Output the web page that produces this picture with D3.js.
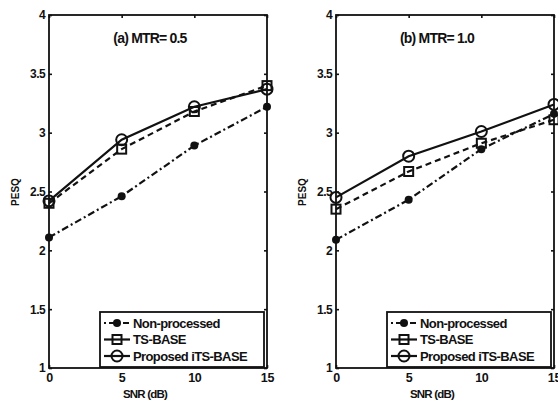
<!DOCTYPE html>
<meta charset="utf-8">
<style>
body { margin: 0; background: #fff; }
svg text { font-family: "Liberation Sans", Arial, sans-serif; font-weight: bold; fill: #111; }
.axis path, .axis line { stroke: #111; stroke-width: 1.6; fill: none; }
</style>
<svg id="plot" width="558" height="401"></svg>
<script src="https://d3js.org/d3.v7.min.js"></script>
<script>

var snr = [0, 5, 10, 15];
var yTicks = [1, 1.5, 2, 2.5, 3, 3.5, 4];
var seriesNames = ["Non-processed", "TS-BASE", "Proposed iTS-BASE"];

// (a) MTR = 0.5
var nonA = [2.11, 2.46, 2.89, 3.22];
var tsA = [2.40, 2.86, 3.18, 3.40];
var itsA = [2.42, 2.94, 3.22, 3.37];

// (b) MTR = 1.0
var nonB = [2.09, 2.43, 2.86, 3.16];
var tsB = [2.35, 2.67, 2.91, 3.11];
var itsB = [2.45, 2.80, 3.01, 3.24];

var panels = [
  {title: "(a) MTR= 0.5", left: 49, right: 267, data: [nonA, tsA, itsA]},
  {title: "(b) MTR= 1.0", left: 336, right: 554, data: [nonB, tsB, itsB]}
];

var plotTop = 15, plotBottom = 368;
var dashes = ["7,3,2,3", "6,4", null];

var svg = d3.select("svg");

panels.forEach(function(p) {
  var x = d3.scaleLinear().domain([0, 15]).range([p.left, p.right]);
  var y = d3.scaleLinear().domain([1, 4]).range([plotBottom, plotTop]);
  var g = svg.append("g");

  // box
  g.append("rect")
      .attr("x", p.left).attr("y", plotTop)
      .attr("width", p.right - p.left).attr("height", plotBottom - plotTop)
      .attr("fill", "none").attr("stroke", "#111").attr("stroke-width", 1.8);

  g.append("g").attr("class", "axis")
      .attr("transform", "translate(0," + plotBottom + ")")
      .call(d3.axisBottom(x).tickValues(snr).tickSize(-3).tickPadding(5).tickFormat(d3.format("d")))
      .call(function(s) { s.select(".domain").remove(); s.selectAll("text").attr("font-size", 12.5).attr("letter-spacing", -0.3); });
  g.append("g").attr("class", "axis")
      .attr("transform", "translate(0," + plotTop + ")")
      .call(d3.axisTop(x).tickValues(snr).tickSize(-3).tickFormat(""))
      .call(function(s) { s.select(".domain").remove(); });
  g.append("g").attr("class", "axis")
      .attr("transform", "translate(" + p.left + ",0)")
      .call(d3.axisLeft(y).tickValues(yTicks).tickSize(-3).tickPadding(4).tickFormat(function(d) { return d % 1 ? d3.format(".1f")(d) : d; }))
      .call(function(s) { s.select(".domain").remove(); s.selectAll("text").attr("font-size", 12).attr("letter-spacing", -0.6); });
  g.append("g").attr("class", "axis")
      .attr("transform", "translate(" + p.right + ",0)")
      .call(d3.axisRight(y).tickValues(yTicks).tickSize(-3).tickFormat(""))
      .call(function(s) { s.select(".domain").remove(); });

  g.append("text")
      .attr("x", (p.left + p.right) / 2 - 8).attr("y", 43)
      .attr("text-anchor", "middle").attr("font-size", 14).attr("letter-spacing", -0.8)
      .text(p.title);

  g.append("text")
      .attr("transform", "translate(" + (p.left - 30) + ",192) rotate(-90)")
      .attr("text-anchor", "middle").attr("font-size", 10)
      .text("PESQ");

  g.append("text")
      .attr("x", (p.left + p.right) / 2 - 13).attr("y", 398)
      .attr("text-anchor", "middle").attr("font-size", 11.5).attr("letter-spacing", -0.8)
      .text("SNR (dB)");

  var line = d3.line()
      .x(function(d, i) { return x(snr[i]); })
      .y(function(d) { return y(d); });

  p.data.forEach(function(vals, k) {
    g.append("path")
        .attr("d", line(vals))
        .attr("fill", "none").attr("stroke", "#111").attr("stroke-width", 2.2)
        .attr("stroke-dasharray", dashes[k]);
    vals.forEach(function(v, i) {
      marker(g, k, x(snr[i]), y(v));
    });
  });

  // legend
  var lx = p.left + 51, ly = 312, lw = p.right - 3 - lx, lh = 55;
  var lg = g.append("g");
  lg.append("rect").attr("x", lx).attr("y", ly).attr("width", lw).attr("height", lh)
      .attr("fill", "#fff").attr("stroke", "#111").attr("stroke-width", 1.8);
  seriesNames.forEach(function(name, k) {
    var ry = ly + 11 + k * 16.5;
    lg.append("line").attr("x1", lx + 4).attr("x2", lx + 30).attr("y1", ry).attr("y2", ry)
        .attr("stroke", "#111").attr("stroke-width", 2.2)
        .attr("stroke-dasharray", k === 0 ? "2,3,6,3" : null);
    marker(lg, k, lx + 17, ry);
    lg.append("text").attr("x", lx + 33).attr("y", ry + 4.5)
        .attr("font-size", 13).attr("letter-spacing", -0.6).text(name);
  });
});

function marker(g, k, cx, cy) {
  if (k === 0) {
    g.append("circle").attr("cx", cx).attr("cy", cy).attr("r", 4).attr("fill", "#111");
  } else if (k === 1) {
    g.append("rect").attr("x", cx - 4.5).attr("y", cy - 4.5).attr("width", 9).attr("height", 9)
        .attr("fill", "none").attr("stroke", "#111").attr("stroke-width", 2);
  } else {
    g.append("circle").attr("cx", cx).attr("cy", cy).attr("r", 5.5)
        .attr("fill", "none").attr("stroke", "#111").attr("stroke-width", 2);
  }
}
</script>
